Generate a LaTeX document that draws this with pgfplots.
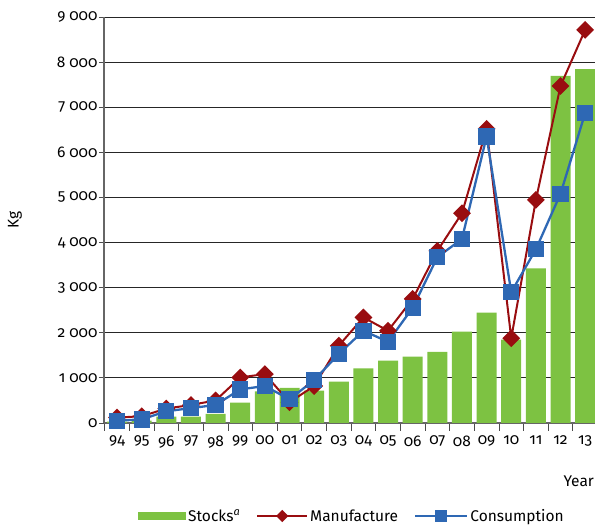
\documentclass[border=0pt]{standalone}
\usepackage{pgfplots}
\pgfplotsset{compat=1.18}
\usepackage{fontspec}
\setmainfont[Numbers=OldStyle]{Fira Sans}

\definecolor{stockgreen}{HTML}{7DC242}
\definecolor{manred}{HTML}{990D10}
\definecolor{conblue}{HTML}{2E68B4}

\pgfplotsset{
    barlegend/.style={legend image code/.code={\fill[stockgreen] (0pt,-4pt) rectangle (48pt,4pt);}},
    manlegend/.style={legend image code/.code={\draw[mark repeat=2, mark phase=2, ##1, mark size=3.3pt] plot coordinates {(0pt,0pt) (25pt,0pt) (50pt,0pt)};}},
    conlegend/.style={legend image code/.code={\draw[mark repeat=2, mark phase=2, ##1, mark size=5pt] plot coordinates {(0pt,0pt) (26pt,0pt) (52pt,0pt)};}},
}

% year index: 0 = 1994 ... 19 = 2013
\pgfplotstableread{
x stocks manuf cons
0   30   120   50
1   50   150   80
2  140   320  260
3  140   400  330
4  200   500  400
5  450  1010  745
6  700  1085  820
7  780   460  525
8  720   820  950
9  915  1715 1530
10 1210 2340 2045
11 1380 2045 1800
12 1470 2750 2555
13 1575 3815 3675
14 2025 4650 4080
15 2445 6520 6350
16 1850 1880 2900
17 3430 4945 3850
18 7694 7472 5080
19 7843 8714 6870
}\datatable

\newcommand{\chartfont}{\fontsize{15.5}{17}\selectfont}

\begin{document}
\begin{tikzpicture}
\path[use as bounding box] (-104pt,-104pt) rectangle (491pt,406pt+17pt);
\begin{axis}[
    at={(0pt,0pt)}, anchor=south west,
    scale only axis,
    width=491pt, height=406pt,
    xmin=-0.53, xmax=19.4,
    ymin=0, ymax=9000,
    axis x line*=bottom,
    axis y line*=left,
    axis line style={draw=black!60, line width=1.2pt},
    xtick={0,...,19},
    xticklabels={94,95,96,97,98,99,00,01,02,03,04,05,06,07,08,09,10,11,12,13},
    minor xtick={-0.5,0.5,...,18.5},
    major tick length=0pt,
    xtick style={draw=none},
    minor tick length=8pt,
    minor x tick style={draw=black!70, line width=0.8pt},
    x tick label style={yshift=-9pt},
    ytick={0,1000,...,9000},
    y tick style={draw=black!70, line width=0.8pt, /pgfplots/major tick length=5pt},
    tick align=outside,
    tick label style={font=\chartfont},
    ymajorgrids,
    y grid style={draw=black!85, line width=0.9pt},
    /pgf/number format/assume math mode=true,
    /pgf/number format/1000 sep={\hspace{0.25em}},
    scaled y ticks=false,
    y tick label style={xshift=-3pt},
    ylabel={Kg},
    ylabel style={at={(rel axis cs:0,0.5)}, yshift=89pt, anchor=center, font=\chartfont},
    legend style={at={(rel axis cs:0.505,-0.229)}, anchor=center, draw=none,
        legend columns=3, font=\chartfont,
        /tikz/every even column/.append style={column sep=14pt},
        row sep=0pt},
    legend cell align=left,
    clip=false,
]
\addplot[ybar, bar width=20pt, fill=stockgreen, draw=none, barlegend]
    table[x=x, y=stocks] {\datatable};
\addlegendentry{Stocks\textsuperscript{\itshape a}}
\addplot[manred, line width=2pt, mark=square*, mark size=5.3pt,
    mark options={rotate=45, solid}, manlegend]
    table[x=x, y=manuf] {\datatable};
\addlegendentry{Manufacture}
\addplot[conblue, line width=2.3pt, mark=square*, mark size=7pt, conlegend]
    table[x=x, y=cons] {\datatable};
\addlegendentry{Consumption}
\node[anchor=center, font=\chartfont] at (rel axis cs:0.967,-0.143) {Year};
\end{axis}
\end{tikzpicture}
\end{document}
